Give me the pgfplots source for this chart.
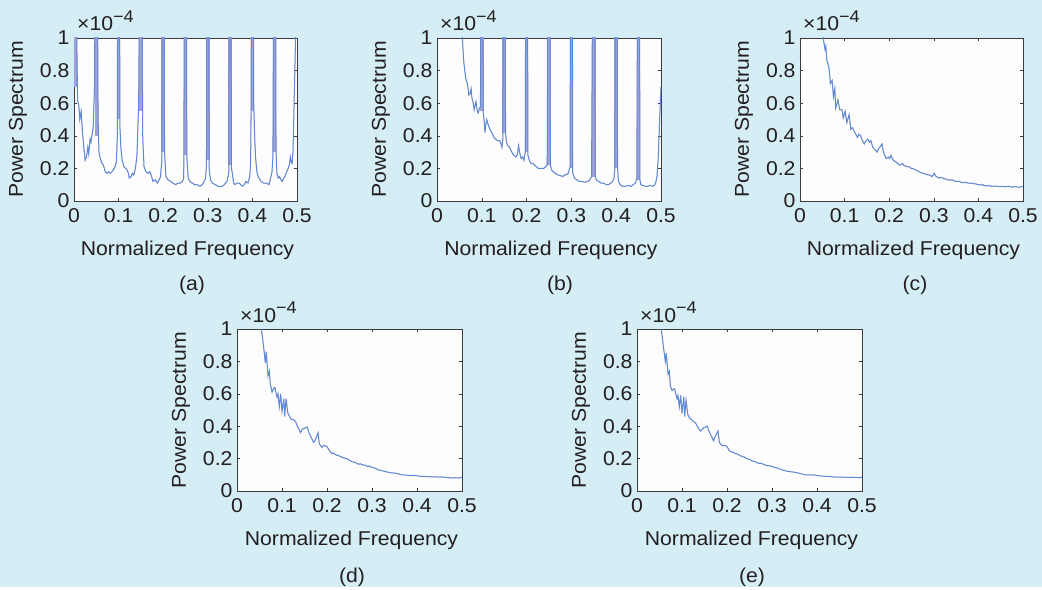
\documentclass[border=0pt]{standalone}
\usepackage{fontspec}
\setmainfont{Liberation Sans}[FakeStretch=1.06]
\usepackage{pgfplots}
\pgfplotsset{compat=1.18}
\definecolor{pagebg}{RGB}{213,237,244}
\definecolor{axbg}{RGB}{253,253,254}
\definecolor{frame}{RGB}{60,60,60}
\definecolor{txt}{RGB}{35,31,32}
\definecolor{curve}{RGB}{92,138,216}
\definecolor{curvered}{RGB}{226,120,140}
\definecolor{band}{RGB}{160,162,218}
\newcommand{\myfont}{\fontsize{20}{24}\selectfont}
\pgfplotsset{
  spec/.style={
    scale only axis, anchor=south west,
    xmin=0, xmax=0.5, ymin=0, ymax=1,
    xtick={0,0.1,0.2,0.3,0.4,0.5},
    xticklabels={0,0.1,0.2,0.3,0.4,0.5},
    ytick={0,0.2,0.4,0.6,0.8,1},
    yticklabels={0,0.2,0.4,0.6,0.8,1},
    tick align=inside, major tick length=3pt,
    tick style={frame, line width=0.5pt},
    axis line style={frame, line width=0.9pt},
    axis background/.style={fill=axbg},
    tick label style={font=\myfont, text=txt},
    label style={font=\myfont, text=txt},
    /pgf/number format/assume math mode=true,
    xticklabel style={anchor=center, yshift=-15pt},
    yticklabel style={xshift=-1pt},
    xlabel={Normalized Frequency},
    ylabel={Power Spectrum},
    xlabel style={at={([xshift=2pt,yshift=-49pt]axis description cs:0.5,0)}, anchor=center},
    ylabel style={at={([xshift=-56pt]axis description cs:0,0.5)}, anchor=center},
    unbounded coords=jump,
    clip mode=individual,
  },
  redline/.style={curvered, line width=0.6pt, opacity=0.6},
  blueline/.style={curve, line width=1pt},
  bandline/.style={band, line width=3.5pt},
}
\newcommand{\scalelabel}{\node[anchor=base west, text=txt, inner sep=0pt, font=\myfont] at ([xshift=3pt,yshift=7pt]rel axis cs:0,1) {×10\raisebox{0.42em}{\fontsize{17}{19}\selectfont −4}};}

\pgfplotstableread{
x y
0 3
0.004 1.5
0.008 0.62
0.011 0.58
0.013 0.50
0.016 0.55
0.019 0.42
0.022 0.33
0.025 0.25
0.028 0.27
0.031 0.33
0.033 0.29
0.036 0.38
0.038 0.36
0.040 0.40
0.043 0.45
0.046 0.70
0.0485 2
0.0515 2
0.054 0.50
0.056 0.30
0.059 0.26
0.063 0.23
0.066 0.22
0.070 0.18
0.074 0.17
0.077 0.18
0.081 0.17
0.085 0.18
0.088 0.19
0.092 0.21
0.095 0.24
0.097 0.38
0.0985 2
0.1015 2
0.103 0.45
0.105 0.33
0.108 0.25
0.112 0.21
0.116 0.20
0.119 0.19
0.122 0.17
0.124 0.14
0.128 0.15
0.131 0.17
0.134 0.16
0.137 0.19
0.141 0.27
0.145 0.60
0.1485 2
0.1515 2
0.154 0.40
0.157 0.21
0.161 0.18
0.166 0.17
0.170 0.18
0.173 0.16
0.177 0.12
0.182 0.13
0.187 0.11
0.191 0.13
0.194 0.15
0.197 0.25
0.1985 2
0.2015 2
0.203 0.30
0.206 0.15
0.211 0.13
0.217 0.12
0.222 0.11
0.228 0.10
0.233 0.11
0.239 0.11
0.243 0.12
0.246 0.14
0.2485 2
0.2515 2
0.253 0.27
0.256 0.14
0.260 0.12
0.265 0.11
0.270 0.10
0.276 0.10
0.282 0.09
0.287 0.10
0.290 0.11
0.295 0.14
0.297 0.22
0.2985 2
0.3015 2
0.303 0.20
0.306 0.13
0.310 0.11
0.317 0.10
0.323 0.09
0.328 0.09
0.332 0.09
0.337 0.10
0.343 0.12
0.347 0.17
0.3485 2
0.3515 2
0.353 0.20
0.355 0.17
0.358 0.11
0.361 0.10
0.365 0.11
0.370 0.11
0.374 0.10
0.378 0.09
0.382 0.10
0.385 0.12
0.390 0.11
0.394 0.15
0.396 0.23
0.397 0.54
0.3985 2
0.4015 2
0.403 0.60
0.405 0.40
0.407 0.27
0.410 0.18
0.413 0.15
0.417 0.13
0.420 0.12
0.425 0.11
0.432 0.11
0.437 0.10
0.440 0.13
0.444 0.18
0.446 0.27
0.4485 2
0.4515 2
0.453 0.30
0.455 0.17
0.458 0.14
0.461 0.15
0.464 0.13
0.467 0.12
0.470 0.14
0.473 0.15
0.477 0.18
0.480 0.20
0.483 0.22
0.485 0.27
0.487 0.24
0.489 0.23
0.491 0.30
0.493 0.54
0.496 0.90
0.500 1.50
}\dataA

\pgfplotstableread{
x y
0.003 0.7
0.003 1.1
0.05 nan
0.05 0.40
0.05 1.1
0.1 nan
0.1 0.50
0.1 1.1
0.15 nan
0.15 0.55
0.15 1.1
0.2 nan
0.2 0.30
0.2 1.1
0.25 nan
0.25 0.28
0.25 1.1
0.3 nan
0.3 0.25
0.3 1.1
0.35 nan
0.35 0.22
0.35 1.1
0.4 nan
0.4 0.55
0.4 1.1
0.45 nan
0.45 0.30
0.45 1.1
}\bandA

\pgfplotstableread{
x y
0.045 1.6
0.0495 3
0.0505 3
0.053 1.4
0.0566 1.0
0.0595 0.86
0.062 0.80
0.065 0.74
0.068 0.72
0.071 0.65
0.074 0.66
0.076 0.69
0.078 0.63
0.081 0.60
0.083 0.56
0.087 0.61
0.090 0.55
0.092 0.54
0.095 0.57
0.097 0.58
0.0985 2
0.1015 2
0.103 0.55
0.105 0.50
0.107 0.42
0.109 0.47
0.111 0.50
0.115 0.46
0.120 0.43
0.124 0.41
0.127 0.39
0.131 0.38
0.135 0.37
0.140 0.37
0.143 0.35
0.145 0.33
0.147 0.38
0.1485 2
0.1515 2
0.153 0.42
0.155 0.36
0.158 0.34
0.162 0.33
0.165 0.31
0.169 0.29
0.172 0.28
0.176 0.27
0.179 0.28
0.182 0.34
0.185 0.29
0.188 0.26
0.191 0.27
0.194 0.25
0.197 0.30
0.1985 2
0.2015 2
0.203 0.28
0.206 0.25
0.210 0.23
0.214 0.23
0.218 0.22
0.222 0.21
0.226 0.20
0.232 0.20
0.238 0.20
0.243 0.21
0.246 0.22
0.2485 2
0.2515 2
0.253 0.22
0.256 0.19
0.259 0.18
0.264 0.17
0.270 0.16
0.276 0.155
0.281 0.15
0.285 0.16
0.288 0.16
0.293 0.17
0.297 0.21
0.2985 2
0.3015 2
0.303 0.17
0.307 0.14
0.312 0.13
0.318 0.12
0.324 0.12
0.330 0.115
0.337 0.12
0.341 0.13
0.345 0.15
0.3485 2
0.3515 2
0.353 0.15
0.356 0.13
0.361 0.12
0.366 0.11
0.372 0.11
0.378 0.10
0.383 0.10
0.388 0.11
0.392 0.12
0.395 0.14
0.397 0.20
0.3985 2
0.4015 2
0.403 0.20
0.405 0.12
0.409 0.10
0.414 0.09
0.420 0.09
0.427 0.095
0.433 0.09
0.438 0.10
0.443 0.11
0.446 0.14
0.4485 2
0.4515 2
0.453 0.13
0.455 0.10
0.460 0.095
0.465 0.09
0.470 0.09
0.476 0.095
0.481 0.09
0.485 0.095
0.488 0.11
0.491 0.15
0.494 0.27
0.497 0.50
0.500 0.70
}\dataB

\pgfplotstableread{
x y
0.1 0.55
0.1 1.1
0.15 nan
0.15 0.42
0.15 1.1
0.2 nan
0.2 0.30
0.2 1.1
0.25 nan
0.25 0.22
0.25 1.1
0.3 nan
0.3 0.20
0.3 1.1
0.35 nan
0.35 0.15
0.35 1.1
0.4 nan
0.4 0.20
0.4 1.1
0.45 nan
0.45 0.13
0.45 1.1
}\bandB

\pgfplotstableread{
x y
0.045 1.4
0.052 1.0
0.056 0.93
0.058 0.95
0.060 0.865
0.063 0.84
0.0658 0.80
0.068 0.72
0.072 0.74
0.075 0.64
0.078 0.69
0.080 0.57
0.085 0.62
0.089 0.56
0.094 0.56
0.097 0.51
0.101 0.55
0.105 0.48
0.110 0.53
0.114 0.44
0.118 0.45
0.121 0.43
0.125 0.41
0.129 0.39
0.132 0.41
0.136 0.40
0.140 0.37
0.144 0.35
0.148 0.37
0.152 0.38
0.156 0.36
0.159 0.37
0.163 0.33
0.166 0.32
0.170 0.31
0.173 0.30
0.176 0.32
0.179 0.33
0.184 0.35
0.187 0.30
0.190 0.28
0.193 0.26
0.198 0.27
0.201 0.26
0.204 0.28
0.209 0.25
0.212 0.245
0.215 0.24
0.219 0.23
0.223 0.22
0.227 0.225
0.230 0.23
0.234 0.215
0.237 0.215
0.241 0.21
0.245 0.21
0.249 0.20
0.252 0.20
0.256 0.195
0.260 0.19
0.264 0.185
0.267 0.18
0.271 0.175
0.275 0.17
0.279 0.168
0.282 0.165
0.286 0.16
0.290 0.16
0.293 0.155
0.296 0.15
0.299 0.16
0.301 0.17
0.304 0.155
0.306 0.15
0.309 0.145
0.312 0.14
0.316 0.145
0.320 0.14
0.324 0.135
0.327 0.135
0.331 0.13
0.334 0.13
0.338 0.128
0.342 0.13
0.346 0.123
0.350 0.12
0.354 0.122
0.357 0.12
0.361 0.115
0.365 0.115
0.369 0.112
0.372 0.115
0.376 0.11
0.380 0.11
0.384 0.108
0.387 0.11
0.391 0.105
0.395 0.105
0.398 0.10
0.402 0.10
0.406 0.098
0.410 0.10
0.413 0.095
0.417 0.095
0.421 0.093
0.425 0.095
0.429 0.09
0.432 0.09
0.436 0.092
0.440 0.092
0.444 0.088
0.447 0.09
0.451 0.09
0.455 0.09
0.459 0.087
0.462 0.088
0.466 0.09
0.470 0.09
0.474 0.086
0.477 0.085
0.481 0.088
0.485 0.088
0.489 0.085
0.492 0.085
0.496 0.087
0.500 0.09
}\dataC

\pgfplotstableread{
x y
0.048 1.4
0.054 1.0
0.057 0.94
0.0596 0.88
0.063 0.79
0.065 0.86
0.069 0.71
0.072 0.74
0.074 0.66
0.078 0.61
0.081 0.63
0.084 0.64
0.087 0.60
0.089 0.58
0.091 0.60
0.094 0.52
0.097 0.60
0.100 0.49
0.104 0.57
0.106 0.46
0.109 0.57
0.113 0.48
0.117 0.46
0.121 0.44
0.125 0.44
0.130 0.43
0.134 0.40
0.137 0.385
0.141 0.36
0.145 0.38
0.148 0.385
0.152 0.39
0.156 0.395
0.160 0.36
0.163 0.34
0.167 0.32
0.170 0.30
0.173 0.31
0.176 0.33
0.180 0.36
0.183 0.29
0.186 0.28
0.189 0.27
0.192 0.28
0.195 0.28
0.200 0.275
0.203 0.26
0.205 0.25
0.208 0.24
0.211 0.23
0.213 0.235
0.216 0.23
0.219 0.225
0.222 0.22
0.225 0.22
0.228 0.215
0.231 0.21
0.233 0.21
0.236 0.205
0.238 0.205
0.241 0.20
0.244 0.20
0.247 0.195
0.250 0.19
0.253 0.185
0.256 0.18
0.260 0.178
0.263 0.175
0.267 0.17
0.270 0.165
0.274 0.168
0.277 0.165
0.281 0.16
0.285 0.16
0.288 0.155
0.291 0.15
0.294 0.155
0.296 0.15
0.299 0.148
0.302 0.145
0.305 0.142
0.307 0.14
0.311 0.135
0.314 0.13
0.318 0.128
0.322 0.125
0.326 0.123
0.330 0.12
0.333 0.118
0.337 0.115
0.341 0.113
0.345 0.112
0.349 0.11
0.352 0.11
0.356 0.107
0.360 0.105
0.363 0.102
0.367 0.10
0.371 0.10
0.374 0.098
0.378 0.098
0.381 0.097
0.385 0.096
0.388 0.095
0.392 0.097
0.396 0.097
0.400 0.094
0.404 0.092
0.408 0.091
0.411 0.09
0.415 0.09
0.418 0.09
0.422 0.089
0.426 0.088
0.430 0.088
0.433 0.087
0.437 0.087
0.440 0.088
0.444 0.087
0.448 0.086
0.452 0.085
0.456 0.087
0.460 0.085
0.463 0.084
0.467 0.083
0.470 0.082
0.474 0.082
0.478 0.08
0.482 0.081
0.485 0.082
0.489 0.081
0.492 0.08
0.496 0.082
0.500 0.085
}\dataD

\pgfplotstableread{
x y
0.048 1.4
0.054 1.0
0.057 0.93
0.0596 0.87
0.063 0.80
0.065 0.85
0.069 0.72
0.072 0.74
0.074 0.65
0.078 0.62
0.081 0.63
0.084 0.63
0.087 0.59
0.089 0.57
0.091 0.59
0.094 0.52
0.097 0.59
0.100 0.48
0.104 0.58
0.106 0.46
0.109 0.56
0.113 0.47
0.117 0.45
0.121 0.44
0.125 0.43
0.130 0.42
0.134 0.40
0.137 0.385
0.141 0.37
0.145 0.38
0.148 0.39
0.152 0.395
0.156 0.40
0.160 0.37
0.163 0.35
0.167 0.33
0.170 0.31
0.173 0.33
0.176 0.35
0.180 0.37
0.183 0.30
0.186 0.29
0.189 0.28
0.192 0.28
0.195 0.28
0.200 0.275
0.203 0.26
0.205 0.25
0.208 0.245
0.211 0.24
0.213 0.24
0.216 0.235
0.219 0.23
0.222 0.23
0.225 0.225
0.228 0.22
0.231 0.215
0.233 0.215
0.236 0.21
0.238 0.21
0.241 0.205
0.244 0.20
0.247 0.198
0.250 0.195
0.253 0.19
0.256 0.185
0.260 0.183
0.263 0.18
0.267 0.175
0.270 0.17
0.274 0.172
0.277 0.17
0.281 0.165
0.285 0.16
0.288 0.158
0.291 0.155
0.294 0.157
0.296 0.155
0.299 0.152
0.302 0.15
0.305 0.147
0.307 0.145
0.311 0.142
0.314 0.14
0.318 0.135
0.322 0.13
0.326 0.128
0.330 0.125
0.333 0.122
0.337 0.12
0.341 0.119
0.345 0.118
0.349 0.116
0.352 0.115
0.356 0.112
0.360 0.11
0.363 0.107
0.367 0.105
0.371 0.103
0.374 0.10
0.378 0.10
0.381 0.10
0.385 0.10
0.388 0.10
0.392 0.099
0.396 0.098
0.400 0.096
0.404 0.095
0.408 0.093
0.411 0.092
0.415 0.091
0.418 0.09
0.422 0.09
0.426 0.09
0.430 0.089
0.433 0.088
0.437 0.087
0.440 0.085
0.444 0.086
0.448 0.086
0.452 0.085
0.456 0.085
0.460 0.086
0.463 0.086
0.467 0.084
0.470 0.083
0.474 0.084
0.478 0.085
0.482 0.084
0.485 0.084
0.489 0.083
0.492 0.083
0.496 0.084
0.500 0.085
}\dataE

\begin{document}
\begin{tikzpicture}[x=1pt,y=1pt]
\fill[pagebg] (0,0) rectangle (1042,587);

% (a)
\begin{axis}[spec, at={(74pt,386pt)}, width=223pt, height=163pt]
\addplot[bandline] table[x=x,y=y] {\bandA};
\addplot[redline] table[x=x,y=y] {\dataA};
\addplot[blueline] table[x=x,y=y] {\dataA};
\scalelabel
\end{axis}

% (b)
\begin{axis}[spec, at={(437pt,386pt)}, width=224pt, height=163pt]
\addplot[bandline] table[x=x,y=y] {\bandB};
\addplot[redline] table[x=x,y=y] {\dataB};
\addplot[blueline] table[x=x,y=y] {\dataB};
\scalelabel
\end{axis}

% (c)
\begin{axis}[spec, at={(800pt,386pt)}, width=223pt, height=163pt]
\addplot[redline] table[x=x,y=y] {\dataC};
\addplot[blueline] table[x=x,y=y] {\dataC};
\scalelabel
\end{axis}

% (d)
\begin{axis}[spec, at={(237pt,96pt)}, width=225pt, height=162pt]
\addplot[redline] table[x=x,y=y] {\dataD};
\addplot[blueline] table[x=x,y=y] {\dataD};
\scalelabel
\end{axis}

% (e)
\begin{axis}[spec, at={(637pt,96pt)}, width=225pt, height=162pt]
\addplot[redline] table[x=x,y=y] {\dataE};
\addplot[blueline] table[x=x,y=y] {\dataE};
\scalelabel
\end{axis}

\begin{scope}[font=\myfont, text=txt]
\node at (192,302) {(a)};
\node at (560,302) {(b)};
\node at (915,302) {(c)};
\node at (352,10) {(d)};
\node at (752,10) {(e)};
\end{scope}
\end{tikzpicture}
\end{document}
